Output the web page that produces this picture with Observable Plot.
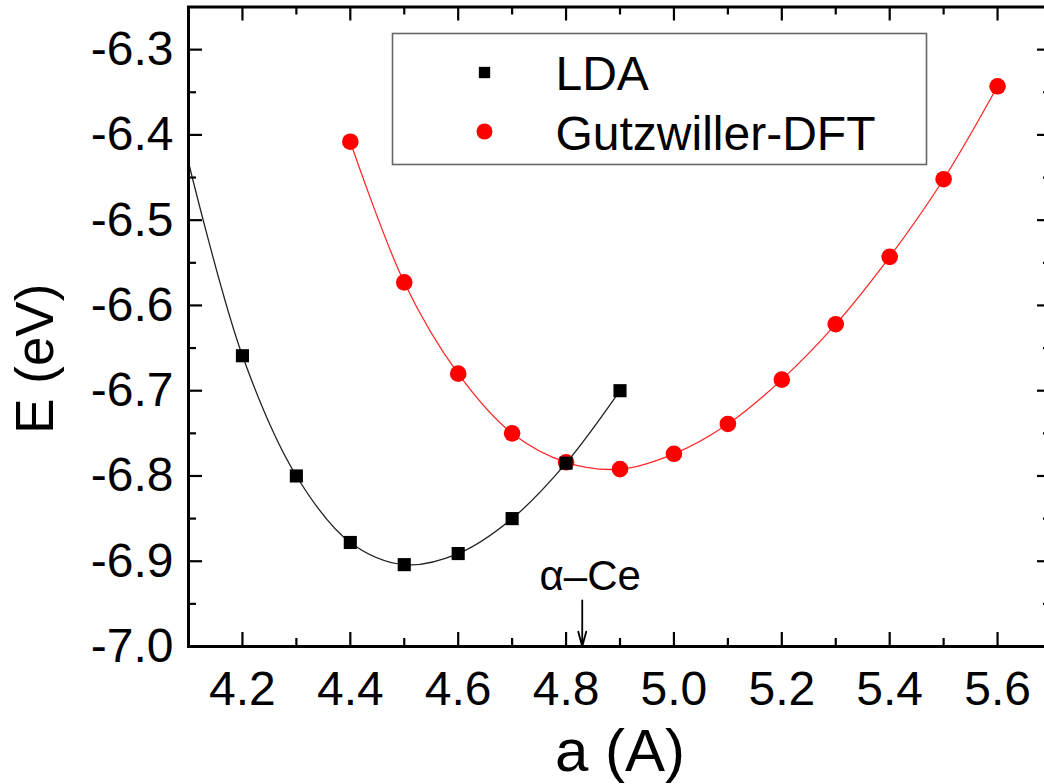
<!DOCTYPE html>
<html><head><meta charset="utf-8">
<script src="https://cdn.jsdelivr.net/npm/d3@7"></script>
<script src="https://cdn.jsdelivr.net/npm/@observablehq/plot@0.6"></script>
<style>body{margin:0;background:#fff}</style>
</head><body><div id="chart"></div>
<script>
// ---- data ----
const ldaA = [4.2, 4.3, 4.4, 4.5, 4.6, 4.7, 4.8, 4.9];
const ldaE = [-6.659, -6.800, -6.878, -6.904, -6.891, -6.850, -6.785, -6.700];
const gdA  = [4.4, 4.5, 4.6, 4.7, 4.8, 4.9, 5.0, 5.1, 5.2, 5.3, 5.4, 5.5, 5.6];
const gdE  = [-6.408, -6.573, -6.680, -6.750, -6.784, -6.792, -6.774, -6.739, -6.687, -6.622, -6.543, -6.452, -6.343];
// fitted LDA curve where it leaves the frame on the left
const ldaFitEdgeA = [4.1];
const ldaFitEdgeE = [-6.432];
const seriesNames = ["LDA", "Gutzwiller-DFT"];
const xMajor = [4.2, 4.4, 4.6, 4.8, 5.0, 5.2, 5.4, 5.6];
const xMinor = [4.3, 4.5, 4.7, 4.9, 5.1, 5.3, 5.5];
const yMajor = [-7.0, -6.9, -6.8, -6.7, -6.6, -6.5, -6.4, -6.3];
const yMinor = [-6.95, -6.85, -6.75, -6.65, -6.55, -6.45, -6.35];
const alphaCeA = [4.83];
const alphaCeLabel = ["α–Ce"];
const arrowTopE = -6.946;

// ---- build tables ----
const lda = ldaA.map((a, i) => ({a, E: ldaE[i]}));
const gd = gdA.map((a, i) => ({a, E: gdE[i]}));
const ldaFit = ldaFitEdgeA.map((a, i) => ({a, E: ldaFitEdgeE[i]})).concat(lda);

const W = 1044, H = 784, mL = 188, mR = -7, mT = 6.5, mB = 138;
const plotW = W - mL - mR, plotH = H - mT - mB;
const FONT = "'Liberation Sans', Arial, Helvetica, sans-serif";
const majLen = 14, minLen = 8;
const fmt = d => d.toFixed(1);

const chart = Plot.plot({
  width: W, height: H,
  marginLeft: mL, marginRight: mR, marginTop: mT, marginBottom: mB,
  style: {fontFamily: FONT, background: "#fff", color: "#000"},
  x: {domain: [4.1, 5.7]},
  y: {domain: [-7.0, -6.25]},
  marks: [
    // fitted curves
    Plot.line(ldaFit, {x: "a", y: "E", curve: "catmull-rom", stroke: "#222", strokeWidth: 1.3, clip: "frame"}),
    Plot.line(gd, {x: "a", y: "E", curve: "catmull-rom", stroke: "#ff2a2a", strokeWidth: 1.3, clip: "frame"}),
    // data points
    Plot.dot(gd, {x: "a", y: "E", symbol: "circle", r: 8.3, fill: "#ff0000", stroke: "none"}),
    Plot.dot(lda, {x: "a", y: "E", symbol: "square", r: 7.4, fill: "#000", stroke: "none"}),
    // frame
    Plot.frame({stroke: "#000", strokeWidth: 3}),
    // inward ticks: bottom, top, left, right
    Plot.tickX(xMajor, {x: d => d, insetTop: plotH - majLen, stroke: "#000", strokeWidth: 2.2}),
    Plot.tickX(xMinor, {x: d => d, insetTop: plotH - minLen, stroke: "#000", strokeWidth: 2.2}),
    Plot.tickX(xMajor, {x: d => d, insetBottom: plotH - majLen, stroke: "#000", strokeWidth: 2.2}),
    Plot.tickX(xMinor, {x: d => d, insetBottom: plotH - minLen, stroke: "#000", strokeWidth: 2.2}),
    Plot.tickY(yMajor, {y: d => d, insetRight: plotW - majLen, stroke: "#000", strokeWidth: 2.2}),
    Plot.tickY(yMinor, {y: d => d, insetRight: plotW - minLen, stroke: "#000", strokeWidth: 2.2}),
    Plot.tickY(yMajor, {y: d => d, insetLeft: plotW - majLen, stroke: "#000", strokeWidth: 2.2}),
    Plot.tickY(yMinor, {y: d => d, insetLeft: plotW - minLen, stroke: "#000", strokeWidth: 2.2}),
    // tick labels
    Plot.axisX({ticks: xMajor, tickSize: 0, tickPadding: 24, fontSize: 48, tickFormat: fmt, label: null}),
    Plot.axisY({ticks: yMajor, tickSize: 0, tickPadding: 15, fontSize: 48, tickFormat: fmt, label: null}),
    // axis titles
    Plot.text(["a (A)"], {frameAnchor: "bottom", text: d => d, dy: 124, textAnchor: "middle", lineAnchor: "bottom", fontSize: 60, fill: "#000"}),
    Plot.text(["E (eV)"], {frameAnchor: "left", text: d => d, dx: -136, dy: 32, rotate: -90, textAnchor: "middle", lineAnchor: "bottom", fontSize: 53, fill: "#000"}),
    // alpha-Ce annotation
    Plot.arrow(alphaCeA, {x: d => d, y1: () => arrowTopE, y2: () => -7.0, stroke: "#000", strokeWidth: 1.8, headLength: 13, headAngle: 30}),
    Plot.text(alphaCeLabel, {x: () => alphaCeA[0], frameAnchor: "bottom", text: d => d, dx: 8, dy: -57, textAnchor: "middle", lineAnchor: "bottom", fontSize: 42, fill: "#000"}),
    // legend box
    Plot.frame({insetLeft: 392 - mL, insetTop: 33 - mT, insetRight: (W - mR) - 926, insetBottom: (H - mB) - 164, stroke: "#666", strokeWidth: 1.6}),
    Plot.dot([seriesNames[0]], {frameAnchor: "top-left", dx: 484 - mL, dy: 72 - mT, symbol: "square", r: 6.4, fill: "#000"}),
    Plot.dot([seriesNames[1]], {frameAnchor: "top-left", dx: 484 - mL, dy: 131 - mT, symbol: "circle", r: 8, fill: "#ff0000"}),
    Plot.text([seriesNames[0]], {frameAnchor: "top-left", text: d => d, dx: 555 - mL, dy: 89 - mT, textAnchor: "start", lineAnchor: "bottom", fontSize: 48, fill: "#000"}),
    Plot.text([seriesNames[1]], {frameAnchor: "top-left", text: d => d, dx: 555 - mL, dy: 149 - mT, textAnchor: "start", lineAnchor: "bottom", fontSize: 48, fill: "#000"})
  ]
});
document.getElementById("chart").appendChild(chart);
</script>
</body></html>
